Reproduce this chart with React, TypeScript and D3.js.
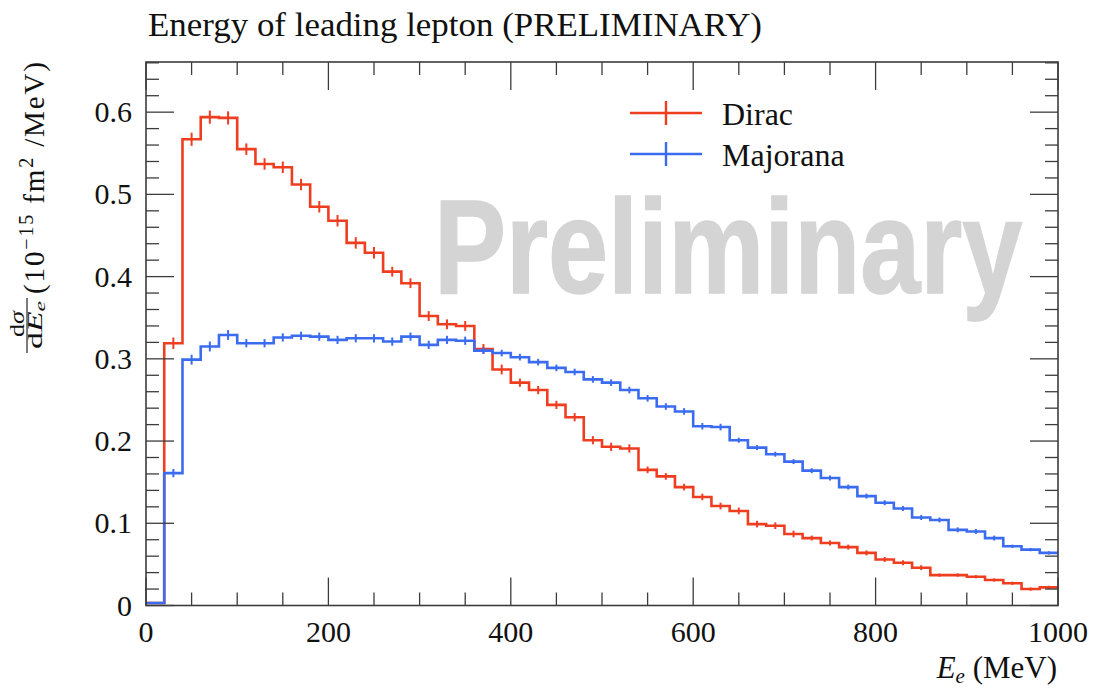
import React from "react";
import * as d3 from "d3";

const BIN_WIDTH = 20;
const binStart: number[] = d3.range(0, 1000, BIN_WIDTH);

const diracValues: number[] = [
  0.003, 0.319, 0.567, 0.594, 0.593, 0.555, 0.537, 0.533, 0.512, 0.485,
  0.468, 0.441, 0.429, 0.406, 0.392, 0.352, 0.342, 0.340, 0.312, 0.287,
  0.271, 0.262, 0.244, 0.229, 0.201, 0.193, 0.191, 0.165, 0.157, 0.144,
  0.132, 0.121, 0.115, 0.099, 0.097, 0.087, 0.082, 0.076, 0.071, 0.064,
  0.056, 0.052, 0.046, 0.037, 0.037, 0.035, 0.031, 0.027, 0.020, 0.022,
];
const diracErrors: number[] = [
  0.001, 0.007, 0.008, 0.008, 0.008, 0.007, 0.007, 0.007, 0.007, 0.007,
  0.007, 0.007, 0.007, 0.006, 0.006, 0.006, 0.006, 0.006, 0.006, 0.006,
  0.005, 0.005, 0.005, 0.005, 0.005, 0.005, 0.005, 0.004, 0.004, 0.004,
  0.004, 0.004, 0.004, 0.004, 0.004, 0.004, 0.003, 0.003, 0.003, 0.003,
  0.003, 0.003, 0.003, 0.002, 0.002, 0.002, 0.002, 0.002, 0.002, 0.002,
];
const majoranaValues: number[] = [
  0.003, 0.161, 0.299, 0.315, 0.329, 0.319, 0.319, 0.326, 0.328, 0.327,
  0.323, 0.325, 0.325, 0.321, 0.327, 0.317, 0.323, 0.322, 0.310, 0.307,
  0.302, 0.296, 0.289, 0.284, 0.275, 0.271, 0.262, 0.252, 0.242, 0.236,
  0.218, 0.217, 0.201, 0.192, 0.184, 0.175, 0.164, 0.155, 0.144, 0.133,
  0.125, 0.118, 0.107, 0.104, 0.092, 0.090, 0.082, 0.072, 0.068, 0.064,
];
const majoranaErrors: number[] = [
  0.001, 0.005, 0.006, 0.006, 0.006, 0.005, 0.005, 0.005, 0.005, 0.005,
  0.005, 0.005, 0.005, 0.005, 0.005, 0.005, 0.005, 0.005, 0.004, 0.004,
  0.004, 0.004, 0.004, 0.004, 0.004, 0.004, 0.004, 0.004, 0.004, 0.004,
  0.004, 0.004, 0.003, 0.003, 0.003, 0.003, 0.003, 0.003, 0.003, 0.003,
  0.003, 0.003, 0.003, 0.003, 0.003, 0.003, 0.003, 0.002, 0.002, 0.002,
];

const xMajorTicks: number[] = [0, 200, 400, 600, 800, 1000];
const xTickLabels: string[] = ["0", "200", "400", "600", "800", "1000"];
const yMajorTicks: number[] = [0, 0.1, 0.2, 0.3, 0.4, 0.5, 0.6];
const yTickLabels: string[] = ["0", "0.1", "0.2", "0.3", "0.4", "0.5", "0.6"];
const xMinorTicks: number[] = d3.range(0, 1001, 50);
const yMinorTicks: number[] = d3.range(0, 0.661, 0.02);

const seriesNames: string[] = ["Dirac", "Majorana"];
const seriesColors: string[] = ["#ef3d20", "#3b6cf0"];

const W = 1094;
const H = 688;
const L = 146, R = 1058, T = 62, B = 605.5;

const x = d3.scaleLinear().domain([0, 1000]).range([L, R]);
const y = d3.scaleLinear().domain([0, 0.661]).range([B, T]);

const serif = "'Liberation Serif', 'DejaVu Serif', serif";
const frameColor = "#3c3c3c";

function histPath(values: number[]): string {
  const pts: [number, number][] = values.map((v, i) => [x(binStart[i]), y(v)]);
  pts.push([x(binStart[values.length - 1] + BIN_WIDTH), y(values[values.length - 1])]);
  return d3.line().curve(d3.curveStepAfter)(pts) || "";
}

function Series({ values, errors, color }: { values: number[]; errors: number[]; color: string }) {
  return (
    <g>
      <path d={histPath(values)} fill="none" stroke={color} strokeWidth={2.6} strokeLinejoin="miter" />
      {values.map((v, i) => {
        const cx = x(binStart[i] + BIN_WIDTH / 2);
        return (
          <line key={i} x1={cx} x2={cx} y1={y(v - errors[i])} y2={y(v + errors[i])} stroke={color} strokeWidth={2} />
        );
      })}
    </g>
  );
}

export default function App() {
  const MAJ = 28, MIN = 13;
  return (
    <div style={{ position: "absolute", left: 0, top: 0 }}>
      <svg width={W} height={H} style={{ display: "block", background: "#fff" }}>
        <rect x={0} y={0} width={W} height={H} fill="#fff" />
        {/* Title */}
        <text x={148} y={36} fontFamily={serif} fontSize={33} fill="#111" textLength={614} lengthAdjust="spacingAndGlyphs">
          Energy of leading lepton (PRELIMINARY)
        </text>
        {/* Watermark */}
        <text transform="translate(434,293) scale(0.806,1)" x={0} y={0}
          fontFamily="'Liberation Sans', Arial, sans-serif" fontWeight="bold" fontSize={134}
          fill="#d4d4d4" stroke="#d4d4d4" strokeWidth={1.5}>
          Preliminary
        </text>
        {/* Histograms */}
        <Series values={diracValues} errors={diracErrors} color={seriesColors[0]} />
        <Series values={majoranaValues} errors={majoranaErrors} color={seriesColors[1]} />
        {/* Frame */}
        <rect x={L} y={T} width={R - L} height={B - T} fill="none" stroke={frameColor} strokeWidth={1.6} />
        {/* X ticks */}
        {xMinorTicks.map((t) => {
          const isMaj = t % 200 === 0;
          const len = isMaj ? MAJ : MIN;
          return (
            <g key={"x" + t} stroke={frameColor} strokeWidth={1.3}>
              <line x1={x(t)} x2={x(t)} y1={B} y2={B - len} />
              <line x1={x(t)} x2={x(t)} y1={T} y2={T + len} />
            </g>
          );
        })}
        {yMinorTicks.map((t, i) => {
          const isMaj = i % 5 === 0;
          const len = isMaj ? MAJ : MIN;
          return (
            <g key={"y" + i} stroke={frameColor} strokeWidth={1.3}>
              <line x1={L} x2={L + len} y1={y(t)} y2={y(t)} />
              <line x1={R} x2={R - len} y1={y(t)} y2={y(t)} />
            </g>
          );
        })}
        {/* X tick labels */}
        {xMajorTicks.map((t, i) => (
          <text key={"xl" + t} x={x(t)} y={642} textAnchor="middle" fontFamily={serif} fontSize={30} fill="#111">
            {xTickLabels[i]}
          </text>
        ))}
        {/* Y tick labels */}
        {yMajorTicks.map((t, i) => (
          <text key={"yl" + i} x={132} y={y(t) + 10} textAnchor="end" fontFamily={serif} fontSize={30} fill="#111">
            {yTickLabels[i]}
          </text>
        ))}
        {/* X axis label */}
        <text x={1057} y={678} textAnchor="end" fontFamily={serif} fontSize={31} fill="#111">
          <tspan fontStyle="italic">E</tspan>
          <tspan fontStyle="italic" fontSize={21} dy={5}>e</tspan>
          <tspan dy={-5}> (MeV)</tspan>
        </text>
        {/* Y axis label */}
        <g transform="translate(44,62) rotate(-90)" fontFamily={serif} fill="#111">
          <text x={0} y={0} textAnchor="end" fontSize={29} textLength={232} lengthAdjust="spacing">
            (10
            <tspan fontSize={20} dy={-11}>−15</tspan>
            <tspan dy={11}> fm</tspan>
            <tspan fontSize={20} dy={-11}>2</tspan>
            <tspan dy={11}> /MeV)</tspan>
          </text>
          <text x={-262} y={-20} textAnchor="middle" fontSize={20} textLength={26} lengthAdjust="spacingAndGlyphs">
            d<tspan fontStyle="italic">σ</tspan>
          </text>
          <line x1={-291} x2={-236} y1={-17} y2={-17} stroke="#111" strokeWidth={1.1} />
          <text x={-263} y={-2} textAnchor="middle" fontSize={20} textLength={48} lengthAdjust="spacingAndGlyphs">
            d<tspan fontStyle="italic">E</tspan>
            <tspan fontStyle="italic" fontSize={14} dy={3}>e</tspan>
          </text>
        </g>
        {/* Legend */}
        {seriesNames.map((name, i) => {
          const ly = 113 + i * 41;
          return (
            <g key={name}>
              <line x1={630} x2={702} y1={ly} y2={ly} stroke={seriesColors[i]} strokeWidth={2.4} />
              <line x1={666} x2={666} y1={ly - 12} y2={ly + 12} stroke={seriesColors[i]} strokeWidth={2.4} />
              <text x={722} y={ly + 12} fontFamily={serif} fontSize={32} fill="#111">{name}</text>
            </g>
          );
        })}
      </svg>
    </div>
  );
}
